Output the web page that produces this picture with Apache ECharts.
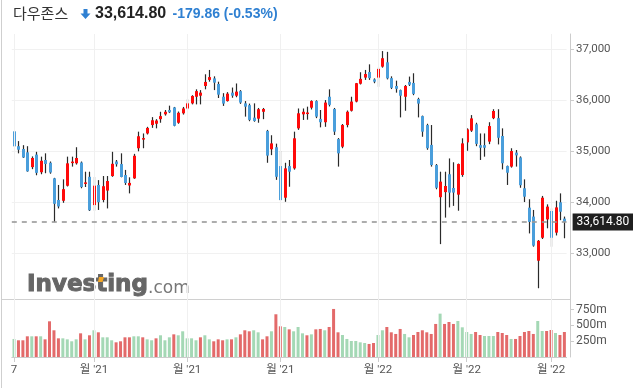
<!DOCTYPE html>
<html><head><meta charset="utf-8">
<script src="https://cdn.jsdelivr.net/npm/echarts@6/dist/echarts.min.js"></script>
<style>html,body{margin:0;padding:0;background:#fff}#c{width:633px;height:388px}</style>
</head><body><div id="c"></div>
<script>
// ---- data (Dow Jones daily) ----
const dates = [
'09-07','09-08','09-09','09-10','09-13','09-14','09-15','09-16','09-17','09-20','09-21','09-22','09-23','09-24','09-27','09-28','09-29','09-30',
'10-01','10-04','10-05','10-06','10-07','10-08','10-11','10-12','10-13','10-14','10-15','10-18','10-19','10-20','10-21','10-22','10-25','10-26','10-27','10-28','10-29',
'11-01','11-02','11-03','11-04','11-05','11-08','11-09','11-10','11-11','11-12','11-15','11-16','11-17','11-18','11-19','11-22','11-23','11-24','11-26','11-29','11-30',
'12-01','12-02','12-03','12-06','12-07','12-08','12-09','12-10','12-13','12-14','12-15','12-16','12-17','12-20','12-21','12-22','12-23','12-27','12-28','12-29','12-30','12-31',
'01-03','01-04','01-05','01-06','01-07','01-10','01-11','01-12','01-13','01-14','01-18','01-19','01-20','01-21','01-24','01-25','01-26','01-27','01-28','01-31',
'02-01','02-02','02-03','02-04','02-07','02-08','02-09','02-10','02-11','02-14','02-15','02-16','02-17','02-18','02-22','02-23','02-24','02-25','02-28',
'03-01','03-02','03-03','03-04'];
const opens = [
35390,35100,35045,34980,34690,34935,34590,34830,34775,34470,
34045,34030,34325,34777,34765,34780,34370,34500,33945,34340,
34045,34230,34515,34800,34750,34535,34330,34470,35060,35235,
35350,35515,35540,35630,35725,35810,35860,35560,35745,35840,
35940,36070,36090,36280,36400,36430,36320,36070,35985,36150,
36090,36180,35940,35905,35660,35640,35775,35400,35040,35080,
34710,34090,34710,34665,35450,35725,35740,35855,35985,35635,
35570,36070,35830,35240,35090,35515,35795,35975,36325,36445,
36555,36410,36445,36660,36745,36435,36280,36200,36070,36360,
36340,36025,35690,35515,35125,34730,34100,34200,34550,34280,
34150,34535,35175,35405,35530,35120,35120,35190,35650,35650,
35300,34710,34700,34975,34880,34275,33895,33720,32855,33305,
33665,33830,33405,34000,33680];
const closes = [
35100,35031,34879,34607,34869,34577,34814,34751,34584,33970,
33919,34258,34764,34798,34869,34299,34390,33844,34326,34002,
34315,34417,34755,34746,34496,34378,34380,34912,35295,35259,
35458,35609,35603,35690,35775,35765,35500,35755,35840,35940,
36085,36180,36150,36360,36455,36345,36110,35935,36130,36090,
36170,35955,35875,35615,35595,35825,35830,34915,35155,34500,
34045,34665,34600,35255,35745,35775,35760,35985,35680,35570,
35955,35910,35385,34960,35515,35775,35975,36335,36420,36515,
36435,36365,36615,36825,36430,36245,36225,36090,36280,36305,
36125,35935,35385,35060,34730,34285,34405,34320,34190,34190,
34750,35155,35430,35645,35145,35070,35070,35495,35790,35265,
34765,34580,35005,34920,34335,34110,33615,33150,33245,34090,
33915,33305,33900,33815,33614.80];
const lows = [
35080,34960,34870,34600,34650,34530,34550,34570,34560,33613,
33880,33990,34310,34700,34740,34275,34300,33830,33835,33850,
34000,33880,34500,34700,34490,34340,34175,34460,35000,35060,
35330,35460,35450,35560,35700,35750,35490,35540,35720,35820,
35920,35920,35920,36215,36365,36200,36045,35890,35975,36050,
36060,35930,35680,35590,35580,35560,35630,34775,34925,34440,
34030,34010,34305,34640,35420,35615,35620,35820,35650,35470,
35480,35880,35320,34700,35060,35470,35780,35960,36310,36400,
36400,36335,36265,36640,36410,36220,36150,35665,35795,36280,
36100,35665,35285,35030,34700,34255,33180,33700,33900,33930,
33835,34500,35010,35380,35100,34830,34895,35140,35630,35135,
34645,34340,34680,34700,34285,34005,33390,33130,32315,33280,
33490,33130,33350,33650,33295];
const highs = [
35400,35200,35120,35100,34900,34990,34895,34960,34800,34480,
34340,34450,34895,34895,35080,34800,34600,34600,34500,34435,
34515,34515,34990,34830,34960,34635,34490,34950,35385,35350,
35480,35670,35630,35775,35810,35895,35870,35780,35870,36020,
36100,36215,36200,36510,36595,36470,36365,36140,36160,36250,
36330,36200,35985,35935,35940,35850,35850,35420,35315,35150,
35010,34775,34830,35385,35840,35840,35875,36000,36000,35810,
36005,36215,35850,35260,35535,35800,36070,36340,36550,36595,
36705,36430,36640,36965,36950,36470,36385,36210,36300,36465,
36530,36050,35700,35540,35515,34750,34600,34600,34860,34785,
34760,35255,35450,35710,35560,35350,35350,35570,35825,35825,
35450,34720,35060,35025,34900,34450,34060,33850,33260,34125,
33960,33880,34030,34175,33720];
// volume in millions
const volumes = [
285,264,264,327,327,327,327,279,564,422,
295,295,279,248,279,374,279,343,422,390,
311,311,264,232,248,311,311,327,327,311,
279,264,295,343,264,311,358,343,406,295,
295,264,311,343,279,248,279,264,279,279,
311,358,422,406,422,390,279,327,406,675,
485,474,437,406,474,374,343,358,437,443,
422,474,759,390,348,285,253,253,232,221,
206,221,348,422,474,390,364,443,364,311,
348,395,422,390,364,522,685,522,553,522,
569,469,395,364,395,348,332,332,332,395,
379,348,285,285,332,395,411,364,569,411,
411,427,379,348,395];
// 1 = green volume bar, 0 = red volume bar
const volumeUp = [
1,0,0,0,1,0,1,0,0,0, 0,1,1,1,1,0,1,0,1,0, 1,1,1,0,0,0,0,1,1,0,
1,1,0,1,1,1,0,1,1,1, 1,1,0,1,1,0,0,0,1,0, 1,0,0,0,1,1,0,0,1,0,
0,1,0,1,1,1,0,1,0,0, 1,0,0,0,1,1,1,1,1,1, 0,0,1,1,0,0,0,0,1,1,
0,0,0,0,0,0,1,0,0,0, 1,1,1,1,0,0,1,1,1,0, 0,0,1,0,0,0,0,0,1,1,
0,0,1,0,0];
const monthTicks = ['09-07','10-01','11-01','12-01','01-03','02-01','03-01'];
const tickLabels = ['7',"월 '21","월 '21","월 '21","월 '22","월 '22","월 '22"];
const priceTicks = [33000,34000,35000,36000,37000];
const volumeTicks = [250,500,750];
const lastPrice = 33614.80;
const headerName = '다우존스';
const headerPrice = '33,614.80';
const headerChange = '-179.86 (-0.53%)';

// ---- chart ----
const RED = '#ff0a0a', BLUE = '#4a9edb', WICK = '#2a2a2a';
const VRED = '#e36a6a', VGREEN = '#a4d8b5';
const tickIdx = new Set(monthTicks.map(d => dates.indexOf(d)));
const labelOf = {}; monthTicks.forEach((d, k) => labelOf[d] = tickLabels[k]);
const ohlc = dates.map((d, i) => [i, opens[i], closes[i], lows[i], highs[i]]);
const fmt = v => v.toLocaleString('en-US');
const gridL = 11.8, gridW = 554.8;

const chart = echarts.init(document.getElementById('c'), null, {renderer: 'canvas'});
chart.setOption({
  animation: false,
  backgroundColor: '#fff',
  grid: [
    {left: gridL, width: gridW, top: 34, height: 265.2},
    {left: gridL, width: gridW, top: 293.7, height: 63.3}
  ],
  xAxis: [
    {type: 'category', gridIndex: 0, data: dates, boundaryGap: true, show: false},
    {type: 'category', gridIndex: 1, data: dates, boundaryGap: true,
     axisLine: {show: true, lineStyle: {color: '#cccccc'}},
     axisTick: {show: true, alignWithLabel: true, length: 5, lineStyle: {color: '#cccccc'},
                interval: (i) => tickIdx.has(i)},
     axisLabel: {show: true, interval: (i) => tickIdx.has(i), formatter: v => labelOf[v] || '',
                 color: '#555', fontSize: 11.5, margin: 7, fontFamily: 'Roboto, "Noto Sans CJK KR"'},
     splitLine: {show: false}}
  ],
  yAxis: [
    {type: 'value', gridIndex: 0, position: 'right', offset: 3.4, min: 32100, max: 37300, splitNumber: 5,
     axisLine: {show: true, lineStyle: {color: '#cccccc'}},
     axisTick: {show: true, length: 4, lineStyle: {color: '#cccccc'}},
     axisLabel: {show: true, margin: 6, color: '#555', fontSize: 11.5, fontFamily: 'Roboto',
                 showMinLabel: false, showMaxLabel: false,
                 formatter: v => priceTicks.includes(v) ? fmt(v) : ''},
     splitLine: {show: true, lineStyle: {color: ['rgba(0,0,0,0)', '#f1f1f1', '#f1f1f1', '#f1f1f1', '#f1f1f1', '#f1f1f1', 'rgba(0,0,0,0)'], width: 1}}},
    {type: 'value', gridIndex: 1, position: 'right', offset: 3.4, min: 0, max: 1000, interval: 250,
     axisLine: {show: true, lineStyle: {color: '#cccccc'}},
     axisTick: {show: true, length: 4, lineStyle: {color: '#cccccc'}},
     axisLabel: {show: true, margin: 6, color: '#555', fontSize: 12, fontFamily: 'Roboto',
                 showMinLabel: false, showMaxLabel: false,
                 formatter: v => volumeTicks.includes(v) ? v + 'm' : ''},
     splitLine: {show: false}}
  ],
  series: [
    { // helper: month gridlines + last price dashed line
      type: 'line', xAxisIndex: 0, yAxisIndex: 0, data: closes, symbol: 'none', silent: true, z: 1,
      lineStyle: {opacity: 0, width: 0},
      markLine: {
        silent: true, symbol: ['none', 'none'], animation: false,
        data: monthTicks.map(d => ({xAxis: d, lineStyle: {color: '#f0f0f0', type: 'solid', width: 1}, label: {show: false}}))
          .concat([{yAxis: lastPrice, lineStyle: {color: '#9a9a9a', type: [5, 5], width: 1.6},
            label: {show: true, position: 'end', distance: 6, formatter: () => fmt(lastPrice).replace(/(\.\d)$/, '$10'),
              backgroundColor: '#1f1f1f', color: '#fff', padding: [3, 4, 2, 4], fontSize: 12, fontFamily: 'Roboto'}}])
      }
    },
    {
      type: 'custom', xAxisIndex: 0, yAxisIndex: 0, z: 3, data: ohlc,
      encode: {x: 0, y: [1, 2, 3, 4]},
      clip: false,
      renderItem: (params, api) => {
        const i = api.value(0), o = api.value(1), c = api.value(2), l = api.value(3), h = api.value(4);
        const pO = api.coord([i, o]), pC = api.coord([i, c]);
        const pL = api.coord([i, l]), pH = api.coord([i, h]);
        const cx = Math.round(pO[0]);
        const top = Math.min(pO[1], pC[1]), bot = Math.max(pO[1], pC[1]);
        return {type: 'group', children: [
          {type: 'line', shape: {x1: cx + 0.5, y1: pH[1], x2: cx + 0.5, y2: pL[1]},
           style: {stroke: WICK, lineWidth: 1.2}},
          {type: 'rect', shape: {x: cx - 1, y: top, width: 3, height: Math.max(bot - top, 1.5)},
           style: {fill: c >= o ? RED : BLUE}}
        ]};
      }
    },
    { // helper for volume month gridlines
      type: 'line', xAxisIndex: 1, yAxisIndex: 1, data: volumes, symbol: 'none', silent: true, z: 1,
      lineStyle: {opacity: 0, width: 0},
      markLine: {silent: true, symbol: ['none', 'none'], animation: false,
        data: monthTicks.map(d => ({xAxis: d, lineStyle: {color: '#f0f0f0', type: 'solid', width: 1}, label: {show: false}}))}
    },
    {
      type: 'bar', xAxisIndex: 1, yAxisIndex: 1, z: 3, barWidth: 3,
      data: volumes.map((v, i) => ({value: v, itemStyle: {color: volumeUp[i] ? VGREEN : VRED}}))
    }
  ],
  graphic: [
    {type: 'line', silent: true, z: 0, shape: {x1: 1.5, y1: 0, x2: 1.5, y2: 388}, style: {stroke: '#cfcfcf', lineWidth: 1}},
    {type: 'line', silent: true, z: 5, shape: {x1: 2, y1: 299.5, x2: 570, y2: 299.5}, style: {stroke: '#d0d0d0', lineWidth: 1}},
    {type: 'text', silent: true, z: 10, x: 13, y: 13.5,
     style: {text: headerName, fill: '#333', font: '15px "Noto Sans CJK KR"', verticalAlign: 'middle'}},
    {type: 'polygon', silent: true, z: 10,
     shape: {points: [[83.5, 9], [87.5, 9], [87.5, 13.5], [90.5, 13.5], [85.5, 19], [80.5, 13.5], [83.5, 13.5]]},
     style: {fill: '#2f80d2'}},
    {type: 'text', silent: true, z: 10, x: 95, y: 14,
     style: {text: headerPrice, fill: '#222', font: 'bold 16px "Liberation Sans"', verticalAlign: 'middle'}},
    {type: 'text', silent: true, z: 10, x: 172.5, y: 14.5,
     style: {text: headerChange, fill: '#2f80d2', font: 'bold 14px "Liberation Sans"', verticalAlign: 'middle'}},
    {type: 'text', silent: true, z: 4, x: 27, y: 297,
     style: {text: 'Investing', fill: '#666', stroke: '#666', lineWidth: 1, font: 'bold 23px "DejaVu Sans"', verticalAlign: 'bottom'}},
    {type: 'polygon', silent: true, z: 6,
     shape: {points: [[99, 277], [104, 277], [102.5, 282], [98, 282]]}, style: {fill: '#f5a623'}},
    {type: 'text', silent: true, z: 4, x: 148, y: 297,
     style: {text: '.com', fill: '#777', font: '17px "DejaVu Sans"', verticalAlign: 'bottom'}}
  ]
});
</script>
</body></html>
